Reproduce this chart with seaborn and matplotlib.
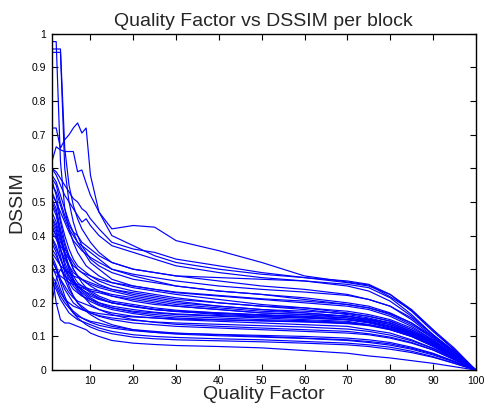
import matplotlib
matplotlib.use("Agg")
import matplotlib.pyplot as plt
import seaborn as sns
import pandas as pd

# Quality factors at which each block's DSSIM was sampled
quality = [1, 2, 3, 4, 5, 6, 7, 8, 9, 10, 12, 15, 20, 25, 30, 40, 50, 60, 70, 75, 80, 85, 90, 95, 100]

# DSSIM per block, one list per block (same order as `quality`)
block_01 = [.977, .977, .62, .48, .42, .38, .35, .33, .31, .30, .28, .26, .245, .235, .225, .21, .195, .185, .17, .16, .145, .12, .085, .045, 0]
block_02 = [.955, .955, .955, .66, .55, .49, .45, .42, .40, .38, .35, .32, .30, .29, .28, .275, .27, .265, .255, .245, .215, .165, .105, .055, 0]
block_03 = [.945, .945, .945, .60, .50, .44, .40, .37, .35, .33, .31, .29, .27, .26, .25, .235, .225, .215, .20, .19, .17, .14, .095, .05, 0]
block_04 = [.72, .72, .66, .685, .70, .72, .735, .705, .72, .58, .47, .42, .43, .425, .385, .355, .32, .28, .262, .253, .218, .178, .12, .065, 0]
block_05 = [.62, .664, .655, .65, .65, .65, .59, .595, .556, .52, .47, .40, .37, .34, .32, .30, .285, .275, .265, .255, .225, .175, .115, .06, 0]
block_06 = [.60, .58, .55, .52, .50, .48, .46, .44, .45, .43, .40, .37, .35, .33, .31, .29, .275, .265, .25, .235, .205, .16, .105, .055, 0]
block_07 = [.57, .55, .50, .46, .43, .41, .40, .38, .37, .36, .34, .32, .30, .29, .28, .265, .25, .24, .225, .21, .19, .15, .10, .05, 0]
block_08 = [.565, .52, .45, .40, .36, .33, .31, .30, .29, .28, .265, .25, .235, .225, .215, .20, .19, .18, .165, .155, .14, .115, .08, .04, 0]
block_09 = [.51, .48, .42, .37, .33, .30, .28, .27, .26, .25, .235, .22, .205, .195, .19, .18, .17, .165, .155, .145, .13, .11, .08, .04, 0]
block_10 = [.49, .46, .40, .35, .31, .28, .26, .25, .24, .23, .215, .20, .19, .18, .175, .165, .16, .155, .15, .14, .125, .105, .075, .04, 0]
block_11 = [.455, .43, .38, .36, .34, .32, .30, .29, .28, .27, .255, .24, .225, .215, .205, .19, .18, .17, .16, .15, .135, .11, .08, .04, 0]
block_12 = [.45, .42, .36, .31, .28, .26, .24, .23, .22, .21, .195, .185, .175, .17, .165, .16, .155, .15, .145, .135, .12, .10, .07, .035, 0]
block_13 = [.42, .40, .37, .35, .33, .31, .30, .29, .285, .28, .27, .26, .25, .24, .23, .22, .21, .20, .19, .18, .16, .13, .09, .045, 0]
block_14 = [.39, .36, .33, .30, .28, .26, .25, .24, .23, .22, .21, .20, .19, .18, .175, .17, .165, .16, .15, .145, .13, .11, .08, .04, 0]
block_15 = [.378, .35, .31, .27, .24, .22, .20, .19, .18, .17, .16, .15, .14, .135, .13, .125, .12, .115, .11, .105, .095, .08, .06, .03, 0]
block_16 = [.348, .33, .31, .30, .29, .28, .275, .27, .265, .26, .25, .24, .23, .22, .21, .20, .19, .185, .175, .165, .15, .125, .09, .045, 0]
block_17 = [.327, .30, .27, .25, .23, .215, .205, .20, .195, .19, .18, .17, .16, .155, .15, .145, .14, .135, .13, .12, .11, .09, .065, .035, 0]
block_18 = [.30, .29, .28, .27, .26, .255, .25, .245, .24, .235, .23, .22, .21, .20, .19, .18, .17, .165, .16, .15, .14, .115, .085, .045, 0]
block_19 = [.27, .25, .22, .20, .185, .17, .16, .155, .15, .145, .14, .13, .12, .115, .11, .105, .10, .095, .09, .085, .078, .065, .048, .025, 0]
block_20 = [.26, .24, .21, .19, .17, .16, .15, .145, .14, .135, .125, .115, .105, .10, .097, .093, .09, .085, .08, .075, .068, .056, .04, .02, 0]
block_21 = [.20, .27, .30, .28, .27, .26, .255, .25, .245, .24, .235, .225, .215, .205, .195, .185, .175, .17, .16, .152, .14, .115, .085, .045, 0]
block_22 = [.29, .20, .15, .14, .14, .135, .13, .125, .12, .11, .10, .088, .08, .076, .073, .07, .066, .058, .05, .042, .036, .028, .02, .01, 0]
block_23 = [.60, .59, .57, .55, .53, .51, .50, .48, .47, .45, .42, .38, .36, .35, .33, .31, .29, .275, .26, .25, .225, .18, .12, .06, 0]
block_24 = [.55, .53, .49, .45, .42, .40, .38, .37, .36, .35, .33, .30, .28, .265, .25, .235, .225, .21, .195, .185, .165, .135, .095, .05, 0]
block_25 = [.53, .50, .44, .38, .34, .30, .28, .26, .245, .235, .22, .205, .195, .185, .178, .17, .163, .157, .15, .142, .128, .105, .075, .04, 0]
block_26 = [.50, .47, .41, .35, .30, .27, .25, .235, .225, .215, .20, .185, .172, .165, .16, .155, .15, .147, .142, .135, .122, .10, .072, .038, 0]
block_27 = [.47, .44, .39, .34, .30, .27, .245, .225, .21, .195, .18, .165, .15, .142, .136, .13, .125, .12, .115, .108, .098, .082, .06, .032, 0]
block_28 = [.43, .40, .34, .29, .25, .22, .20, .185, .175, .165, .15, .135, .12, .112, .107, .102, .098, .094, .088, .082, .074, .062, .045, .024, 0]
block_29 = [.41, .39, .36, .33, .31, .29, .28, .27, .26, .255, .245, .235, .22, .21, .20, .19, .18, .175, .168, .16, .146, .12, .088, .046, 0]
block_30 = [.36, .34, .31, .28, .26, .24, .23, .22, .215, .21, .20, .19, .18, .172, .167, .162, .158, .155, .15, .143, .13, .107, .078, .041, 0]
block_31 = [.34, .31, .27, .24, .22, .20, .19, .18, .175, .17, .162, .155, .148, .143, .14, .136, .132, .128, .122, .115, .104, .087, .064, .034, 0]
block_32 = [.31, .28, .24, .21, .19, .175, .165, .155, .148, .142, .133, .125, .117, .112, .109, .106, .103, .10, .095, .09, .082, .068, .05, .026, 0]
block_33 = [.28, .26, .23, .21, .20, .19, .185, .18, .176, .173, .168, .163, .158, .155, .152, .149, .146, .143, .138, .132, .12, .10, .073, .038, 0]
block_34 = [.58, .56, .52, .48, .44, .41, .38, .36, .34, .32, .30, .27, .25, .24, .232, .222, .212, .205, .195, .185, .168, .14, .10, .052, 0]
block_35 = [.52, .50, .47, .44, .41, .385, .37, .355, .345, .335, .32, .30, .285, .275, .265, .25, .24, .232, .222, .21, .19, .155, .105, .055, 0]
block_36 = [.44, .41, .36, .32, .29, .265, .25, .24, .232, .225, .213, .20, .188, .18, .174, .168, .163, .16, .155, .148, .135, .112, .082, .043, 0]
block_37 = [.395, .37, .33, .30, .27, .25, .235, .222, .212, .204, .192, .18, .168, .16, .155, .15, .147, .144, .14, .134, .123, .103, .076, .04, 0]
block_38 = [.33, .30, .26, .22, .19, .17, .155, .145, .135, .128, .118, .108, .098, .093, .09, .087, .084, .08, .075, .07, .062, .052, .038, .02, 0]

blocks = [block_01, block_02, block_03, block_04, block_05, block_06, block_07, block_08,
          block_09, block_10, block_11, block_12, block_13, block_14, block_15, block_16,
          block_17, block_18, block_19, block_20, block_21, block_22, block_23, block_24,
          block_25, block_26, block_27, block_28, block_29, block_30, block_31, block_32,
          block_33, block_34, block_35, block_36, block_37, block_38]

x_ticks = [10, 20, 30, 40, 50, 60, 70, 80, 90, 100]
y_ticks = [0, 0.1, 0.2, 0.3, 0.4, 0.5, 0.6, 0.7, 0.8, 0.9, 1]
y_tick_labels = ["0", "0.1", "0.2", "0.3", "0.4", "0.5", "0.6", "0.7", "0.8", "0.9", "1"]

# Long-form table: one row per (block, quality factor)
rows = []
for b, vals in enumerate(blocks):
    for q, v in zip(quality, vals):
        rows.append({"block": b, "quality": q, "dssim": v})
df = pd.DataFrame(rows)

sns.set_style("ticks")
plt.rcParams["font.family"] = ["Liberation Sans", "DejaVu Sans"]

fig = plt.figure(figsize=(4.85, 4.08), dpi=100)
ax = fig.add_axes([0.107, 0.093, 0.874, 0.824])

sns.lineplot(data=df, x="quality", y="dssim", units="block", estimator=None,
             color="#0000ff", linewidth=0.85, ax=ax, legend=False)

ax.set_xlim(1, 100)
ax.set_ylim(0, 1)
ax.set_xticks(x_ticks)
ax.set_xticklabels([str(t) for t in x_ticks])
ax.set_yticks(y_ticks)
ax.set_yticklabels(y_tick_labels)
ax.tick_params(direction="in", length=4, width=0.8, labelsize=7.5,
               top=True, right=True, colors="black", pad=4)

for s in ax.spines.values():
    s.set_visible(True)
    s.set_linewidth(1.0)
    s.set_color("black")

ax.set_xlabel("Quality Factor", fontsize=14, labelpad=0)
ax.set_ylabel("DSSIM", fontsize=14, labelpad=5)
ax.set_title("Quality Factor vs DSSIM per block", fontsize=14, pad=6)

fig.savefig("out.png", dpi=100)
